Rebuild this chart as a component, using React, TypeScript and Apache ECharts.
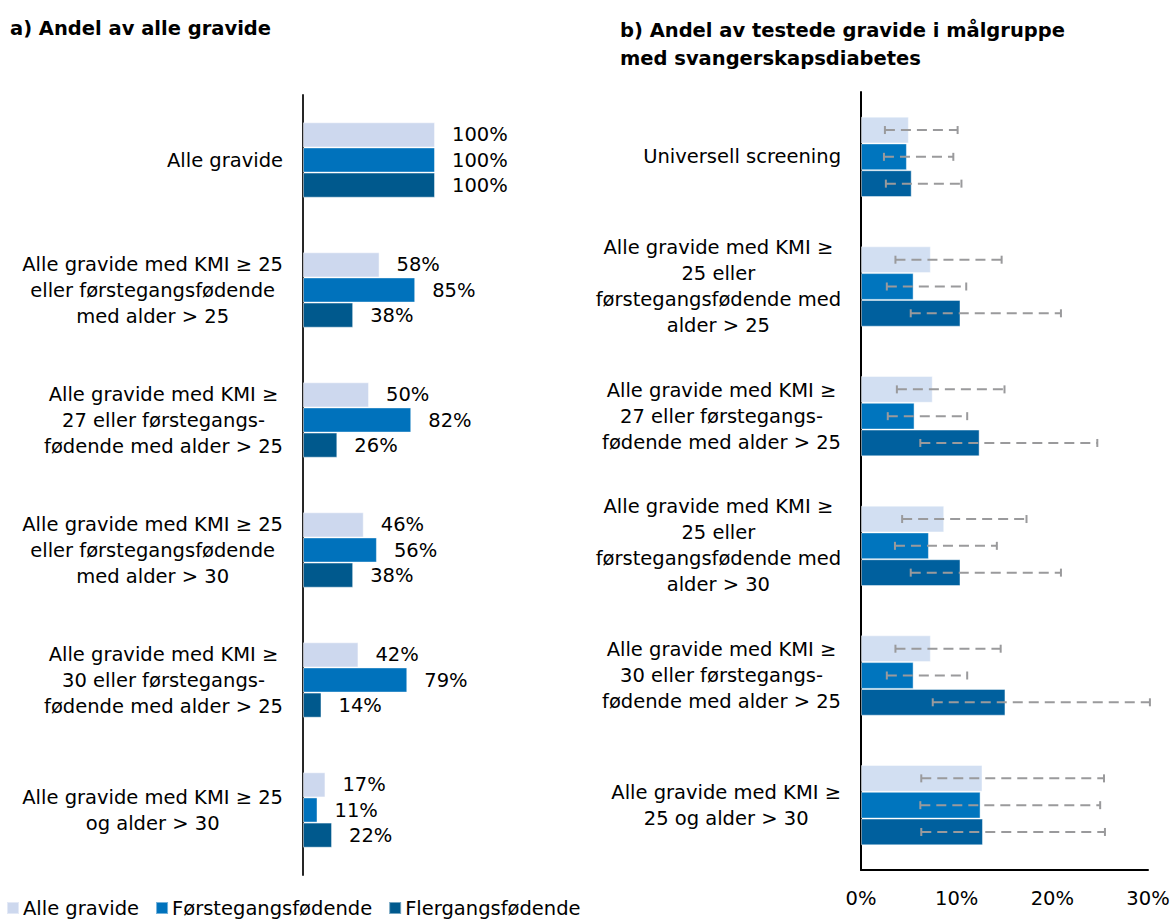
import React, { useEffect, useRef } from "react";
import * as echarts from "echarts";

const FONT = "DejaVu Sans";
const FS = 19.5;

const seriesNames = ["Alle gravide", "Førstegangsfødende", "Flergangsfødende"];

const categoriesA = [
  "Alle gravide",
  "Alle gravide med KMI ≥ 25\neller førstegangsfødende\nmed alder > 25",
  "Alle gravide med KMI ≥\n27 eller førstegangs-\nfødende med alder > 25",
  "Alle gravide med KMI ≥ 25\neller førstegangsfødende\nmed alder > 30",
  "Alle gravide med KMI ≥\n30 eller førstegangs-\nfødende med alder > 25",
  "Alle gravide med KMI ≥ 25\nog alder > 30",
];

const categoriesB = [
  "Universell screening",
  "Alle gravide med KMI ≥\n25 eller\nførstegangsfødende med\nalder > 25",
  "Alle gravide med KMI ≥\n27 eller førstegangs-\nfødende med alder > 25",
  "Alle gravide med KMI ≥\n25 eller\nførstegangsfødende med\nalder > 30",
  "Alle gravide med KMI ≥\n30 eller førstegangs-\nfødende med alder > 25",
  "Alle gravide med KMI ≥\n25 og alder > 30",
];

// Panel a: share of all pregnant women (%)
const shareAlle = [100, 58, 50, 46, 42, 17];
const shareForste = [100, 85, 82, 56, 79, 11];
const shareFler = [100, 38, 26, 38, 14, 22];

// Panel b: share with gestational diabetes (%), with confidence intervals
const gdmAlle = [5.0, 7.3, 7.5, 8.7, 7.3, 12.7];
const gdmForste = [4.8, 5.5, 5.6, 7.1, 5.5, 12.5];
const gdmFler = [5.3, 10.4, 12.4, 10.4, 15.1, 12.75];
const lowAlle = [2.5, 3.6, 3.75, 4.3, 3.6, 6.3];
const highAlle = [10.1, 14.7, 15.0, 17.3, 14.6, 25.4];
const lowForste = [2.4, 2.7, 2.8, 3.55, 2.7, 6.2];
const highForste = [9.65, 11.0, 11.1, 14.2, 11.1, 25.0];
const lowFler = [2.6, 5.2, 6.2, 5.2, 7.5, 6.3];
const highFler = [10.5, 20.9, 24.7, 20.9, 30.2, 25.5];

const xTicksB = [0, 10, 20, 30];

const colorsA = ["#CDD8EE", "#0072BC", "#00598D"];
const colorsB = ["#D2DFF2", "#0075BE", "#00609E"];

const GAP_A = 0.42;
const GAP_B = 0.38;

const richLabel = (v: string) =>
  v
    .split("\n")
    .map((l) => `{c|${l}}`)
    .join("\n");

export default function App() {
  const ref = useRef<HTMLDivElement>(null);

  useEffect(() => {
    if (!ref.current) return;
    const chart = echarts.init(ref.current, undefined, { renderer: "svg" });

    const sharesA = [shareAlle, shareForste, shareFler];
    const gdm = [gdmAlle, gdmForste, gdmFler];
    const lows = [lowAlle, lowForste, lowFler];
    const highs = [highAlle, highForste, highFler];

    const barsA = sharesA.map((d, i) => ({
      type: "bar",
      name: seriesNames[i],
      xAxisIndex: 0,
      yAxisIndex: 0,
      data: d,
      barGap: "0%",
      barCategoryGap: `${GAP_A * 100}%`,
      itemStyle: { color: colorsA[i], borderColor: "rgba(255,255,255,0.45)", borderWidth: 1 },
      label: {
        show: true,
        position: "right",
        distance: 17,
        formatter: (p: any) => `${p.value}%`,
        fontFamily: FONT,
        fontSize: FS,
        color: "#000",
      },
    }));

    const barsB = gdm.map((d, i) => ({
      type: "bar",
      name: seriesNames[i],
      xAxisIndex: 1,
      yAxisIndex: 1,
      data: d,
      barGap: "0%",
      barCategoryGap: `${GAP_B * 100}%`,
      itemStyle: { color: colorsB[i], borderColor: "rgba(255,255,255,0.45)", borderWidth: 1 },
    }));

    const errs = lows.map((lo, i) => ({
      type: "custom",
      name: "ci-" + i,
      xAxisIndex: 1,
      yAxisIndex: 1,
      z: 5,
      data: lo.map((l, k) => [l, highs[i][k], k]),
      encode: { x: [0, 1], y: 2 },
      renderItem: (params: any, api: any) => {
        const cat = api.value(2);
        const a = api.coord([api.value(0), cat]);
        const b = api.coord([api.value(1), cat]);
        const band = api.size([0, 1])[1];
        const barW = (band * (1 - GAP_B)) / 3;
        const y = a[1] + (i - 1) * barW;
        const st = { stroke: "#9A9A9C", lineWidth: 2 };
        return {
          type: "group",
          children: [
            {
              type: "line",
              shape: { x1: a[0], y1: y, x2: b[0], y2: y },
              style: { ...st, lineDash: [10, 6] },
            },
            { type: "line", shape: { x1: a[0], y1: y - 4, x2: a[0], y2: y + 4 }, style: st },
            { type: "line", shape: { x1: b[0], y1: y - 4, x2: b[0], y2: y + 4 }, style: st },
          ],
        };
      },
    }));

    const titleStyle = { fontFamily: FONT, fontSize: FS, fontWeight: "bold", color: "#000", lineHeight: 28 };

    chart.setOption({
      animation: false,
      textStyle: { fontFamily: FONT },
      title: [
        { text: "a) Andel av alle gravide", left: 10, top: 14, padding: 0, textStyle: titleStyle },
        {
          text: "b) Andel av testede gravide i målgruppe\nmed svangerskapsdiabetes",
          left: 620,
          top: 16,
          padding: 0,
          textStyle: titleStyle,
        },
      ],
      legend: {
        data: seriesNames,
        left: 6,
        top: 898,
        padding: 0,
        icon: "rect",
        itemWidth: 12,
        itemHeight: 12,
        itemGap: 16,
        textStyle: { fontFamily: FONT, fontSize: FS, color: "#000", padding: [0, 0, 0, -1] },
      },
      grid: [
        { left: 303, top: 95, width: 132, height: 780, containLabel: false },
        { left: 861, top: 92, width: 287, height: 778, containLabel: false },
      ],
      xAxis: [
        { gridIndex: 0, type: "value", min: 0, max: 100, show: false },
        {
          gridIndex: 1,
          type: "value",
          min: xTicksB[0],
          max: xTicksB[xTicksB.length - 1],
          interval: xTicksB[1] - xTicksB[0],
          axisLine: { show: true, lineStyle: { color: "#000", width: 2 } },
          axisTick: { show: false },
          splitLine: { show: false },
          axisLabel: {
            formatter: (v: number) => `${v}%`,
            fontFamily: FONT,
            fontSize: FS,
            color: "#000",
            margin: 18,
          },
        },
      ],
      yAxis: [
        {
          gridIndex: 0,
          type: "category",
          data: categoriesA,
          inverse: true,
          axisLine: { show: true, lineStyle: { color: "#262626", width: 2 } },
          axisTick: { show: false },
          axisLabel: {
            margin: 20,
            formatter: richLabel,
            rich: { c: { align: "center", fontFamily: FONT, fontSize: FS, lineHeight: 26, color: "#000" } },
          },
        },
        {
          gridIndex: 1,
          type: "category",
          data: categoriesB,
          inverse: true,
          axisLine: { show: true, lineStyle: { color: "#000", width: 2 } },
          axisTick: { show: false },
          axisLabel: {
            margin: 20,
            formatter: richLabel,
            rich: { c: { align: "center", fontFamily: FONT, fontSize: FS, lineHeight: 26, color: "#000" } },
          },
        },
      ],
      series: [...barsA, ...barsB, ...errs],
    });

    return () => chart.dispose();
  }, []);

  return <div ref={ref} style={{ width: 1174, height: 919, position: "absolute", left: 0, top: 0 }} />;
}
